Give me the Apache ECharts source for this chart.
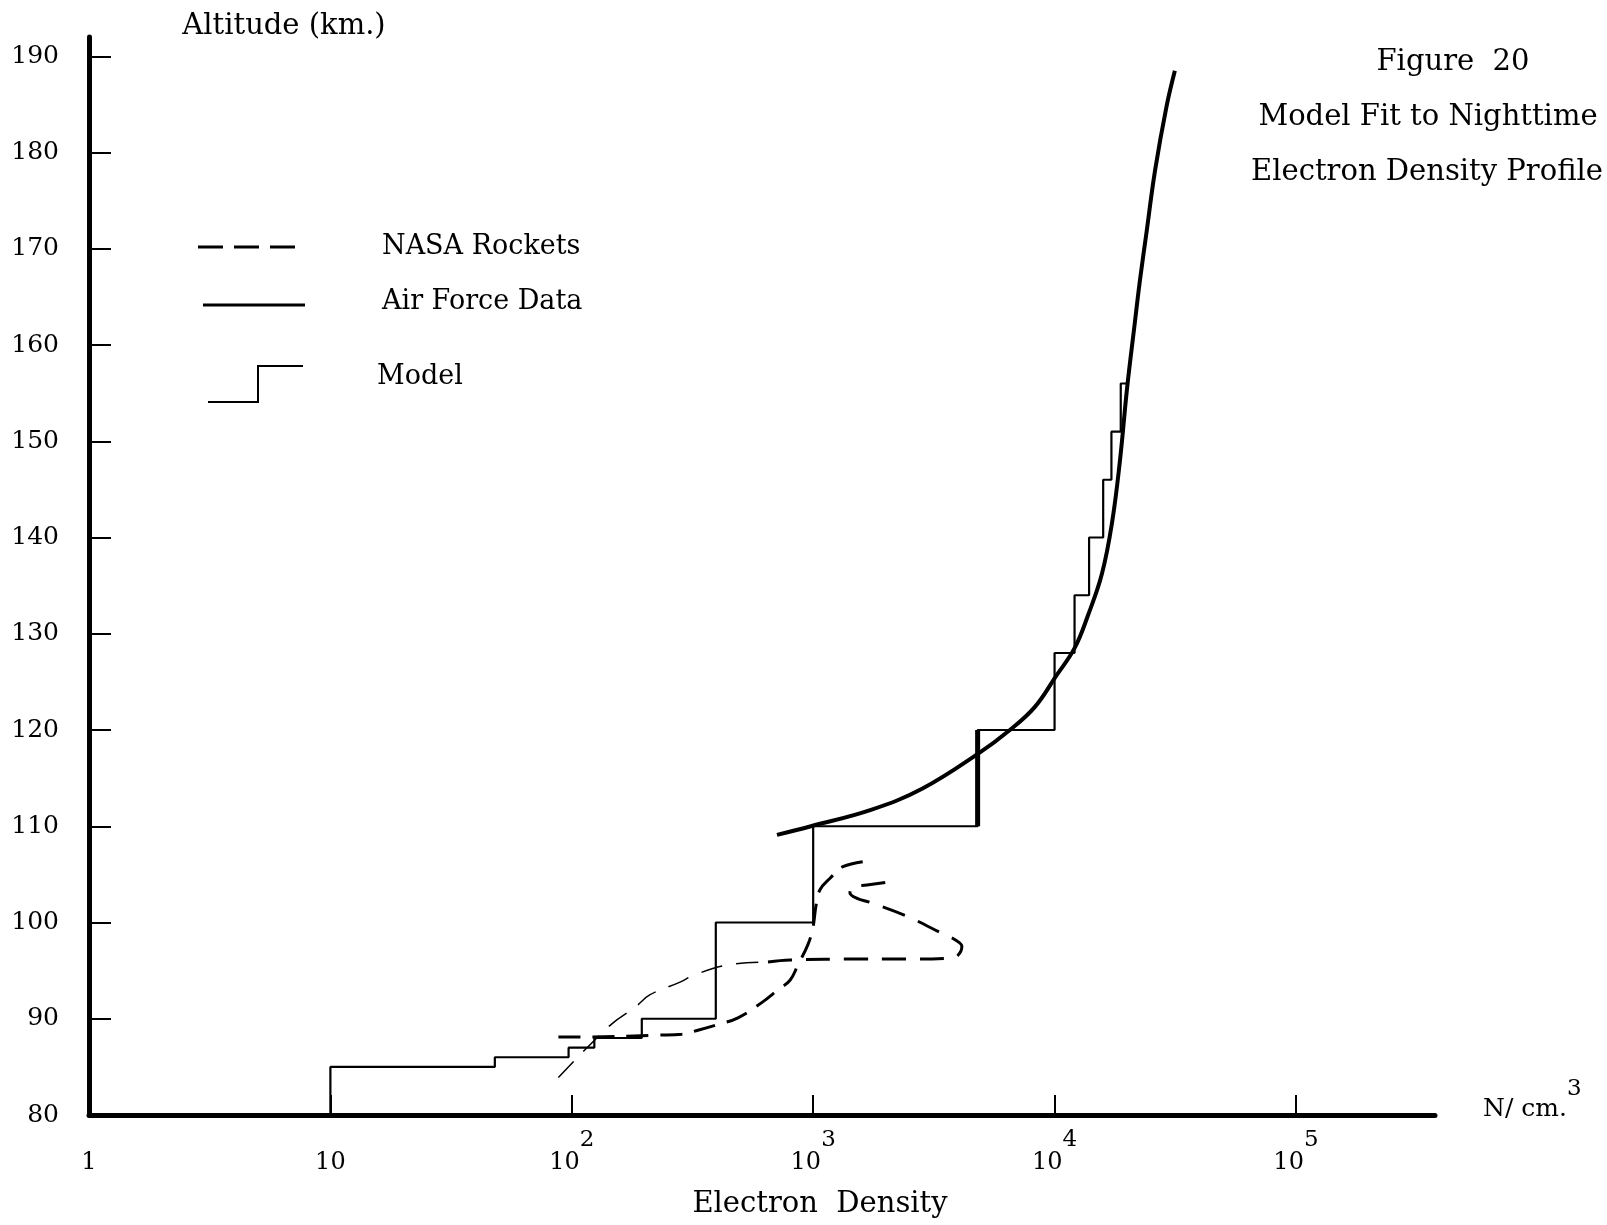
<!DOCTYPE html>
<html><head><meta charset="utf-8">
<script src="https://cdn.jsdelivr.net/npm/echarts@6/dist/echarts.min.js"></script>
<style>html,body{margin:0;padding:0;background:#fff}#c{width:1607px;height:1225px}</style>
</head><body><div id="c"></div>
<script>
// ---- data (electron density N/cm^3, altitude km) ----
const xTickValues = [1, 10, 100, 1000, 10000, 100000];
const yTickValues = [80, 90, 100, 110, 120, 130, 140, 150, 160, 170, 180, 190];

const modelSteps = [[10,80],[10,85],[48,85],[48,86],[97,86],[97,87],[124,87],[124,88],[195,88],[195,90],
  [395,90],[395,100],[1000,100],[1000,110],[4800,110],[4800,120],[10000,120],[10000,128],[12100,128],
  [12100,134],[13900,134],[13900,140],[15900,140],[15900,146],[17200,146],[17200,151],[18800,151],
  [18800,156],[20000,156]];

const airForce = [[708,109.1],[979,110.0],[1735,111.7],[2825,113.9],[4860,117.6],[6530,120.0],[8290,122.4],
  [10140,125.6],[12100,128.5],[13750,131.9],[15700,136.2],[17290,141.5],[18660,148.0],[19950,155.4],
  [21500,162.3],[22600,166.8],[24100,171.9],[26100,178.2],[29100,184.8],[31500,188.5]];

const nasaRocketA = [[88,88.1],[110,88.1],[232,88.3],[286,88.4],[333,88.8],[403,89.4],[488,90.1],[614,91.7],
  [714,93.0],[802,94.0],[865,95.6],[951,97.7],[998,99.5],[1028,101.8],[1067,103.4],[1175,104.6],[1328,105.8],[1720,106.4]];

const nasaRocketBLow = [[88,83.9],[103,85.7],[119,87.3],[147,89.5],[183,91.2],[211,92.5],[281,93.8],[318,94.5],
  [444,95.6],[650,95.9]];
const nasaRocketBHigh = [[650,95.9],[802,96.1],[1563,96.2],[2290,96.2],[3690,96.3],[3980,96.6],[4130,97.5],
  [3870,98.2],[3520,98.7],[2470,100.6],[1720,102.1],[1520,102.5],[1420,103.1],[1460,103.7],[1670,103.9],[2180,104.3]];

const FONT = 'DejaVu Serif';
const supRich = {
  b: {fontSize: 24, fontFamily: FONT, color: '#000', padding: [22, 0, 0, 0]},
  s: {fontSize: 23, fontFamily: FONT, color: '#000', padding: [0, 0, 23, 0]}
};

const chart = echarts.init(document.getElementById('c'), null, {renderer: 'canvas'});
chart.setOption({
  backgroundColor: '#fff',
  animation: false,
  grid: {left: 89, right: 172, top: 37, bottom: 110, containLabel: false},
  xAxis: {
    type: 'log', logBase: 10, min: 1, max: 376700,
    axisLine: {show: true, lineStyle: {color: '#000', width: 5}},
    axisTick: {show: true, inside: true, length: 20, lineStyle: {color: '#000', width: 2}, customValues: xTickValues},
    axisLabel: {
      customValues: xTickValues, margin: 14,
      formatter: function (v) {
        const e = Math.round(Math.log10(v));
        if (e === 0) return '{b|1}';
        if (e === 1) return '{b|10}';
        return '{b|10}{s|' + e + '}';
      },
      rich: supRich
    },
    splitLine: {show: false}, minorTick: {show: false},
    name: '{nb|N/ cm.}{ns|3}', nameLocation: 'end', nameGap: 48,
    nameTextStyle: {
      rich: {
        nb: {fontSize: 25, fontFamily: FONT, color: '#000', padding: [19, 0, 31, 0]},
        ns: {fontSize: 23, fontFamily: FONT, color: '#000', padding: [0, 0, 52, 0]}
      }
    }
  },
  yAxis: {
    type: 'value', min: 80, max: 192, interval: 10,
    axisLine: {show: true, lineStyle: {color: '#000', width: 5}},
    axisTick: {show: true, inside: true, length: 22, lineStyle: {color: '#000', width: 2}, customValues: yTickValues},
    axisLabel: {customValues: yTickValues, margin: 30, fontSize: 25, fontFamily: FONT, color: '#000'},
    splitLine: {show: false}
  },
  series: [
    {name: 'Model', type: 'line', data: modelSteps, symbol: 'none', lineStyle: {color: '#000', width: 2.2}, z: 3},
    {name: 'Model', type: 'line', data: modelSteps.slice(14, 16), symbol: 'none', lineStyle: {color: '#000', width: 5}, z: 3},
    {name: 'Air Force Data', type: 'line', data: airForce, symbol: 'none', smooth: 0.4, lineStyle: {color: '#000', width: 4}, z: 4},
    {name: 'NASA Rockets', type: 'line', data: nasaRocketA, symbol: 'none', smooth: 0.4, lineStyle: {color: '#000', width: 3, type: [22, 12]}, z: 2},
    {name: 'NASA Rockets', type: 'line', data: nasaRocketBLow, symbol: 'none', smooth: 0.4, lineStyle: {color: '#000', width: 1.5, type: [22, 14]}, z: 2},
    {name: 'NASA Rockets', type: 'line', data: nasaRocketBHigh, symbol: 'none', smooth: 0.4, lineStyle: {color: '#000', width: 3, type: [24, 14]}, z: 2}
  ],
  graphic: [
    {type: 'text', x: 284, y: 26, style: {text: 'Altitude (km.)', fill: '#000', fontSize: 29, fontFamily: FONT, align: 'center', verticalAlign: 'middle'}},
    {type: 'text', x: 1453, y: 62, style: {text: 'Figure  20', fill: '#000', fontSize: 29, fontFamily: FONT, align: 'center', verticalAlign: 'middle'}},
    {type: 'text', x: 1428, y: 117, style: {text: 'Model Fit to Nighttime', fill: '#000', fontSize: 29, fontFamily: FONT, align: 'center', verticalAlign: 'middle'}},
    {type: 'text', x: 1427, y: 172, style: {text: 'Electron Density Profile', fill: '#000', fontSize: 29, fontFamily: FONT, align: 'center', verticalAlign: 'middle'}},
    {type: 'text', x: 820, y: 1204, style: {text: 'Electron  Density', fill: '#000', fontSize: 29, fontFamily: FONT, align: 'center', verticalAlign: 'middle'}},
    {type: 'line', shape: {x1: 198, y1: 247, x2: 297, y2: 247}, style: {stroke: '#000', lineWidth: 3, lineDash: [25, 11]}},
    {type: 'line', shape: {x1: 203, y1: 305, x2: 305, y2: 305}, style: {stroke: '#000', lineWidth: 3}},
    {type: 'polyline', shape: {points: [[208, 402], [258, 402], [258, 366], [303, 366]]}, style: {stroke: '#000', lineWidth: 2, fill: null}},
    {type: 'text', x: 382, y: 247, style: {text: 'NASA Rockets', fill: '#000', fontSize: 27, fontFamily: FONT, align: 'left', verticalAlign: 'middle'}},
    {type: 'text', x: 382, y: 302, style: {text: 'Air Force Data', fill: '#000', fontSize: 27, fontFamily: FONT, align: 'left', verticalAlign: 'middle'}},
    {type: 'text', x: 377, y: 377, style: {text: 'Model', fill: '#000', fontSize: 27, fontFamily: FONT, align: 'left', verticalAlign: 'middle'}}
  ]
});
</script></body></html>
